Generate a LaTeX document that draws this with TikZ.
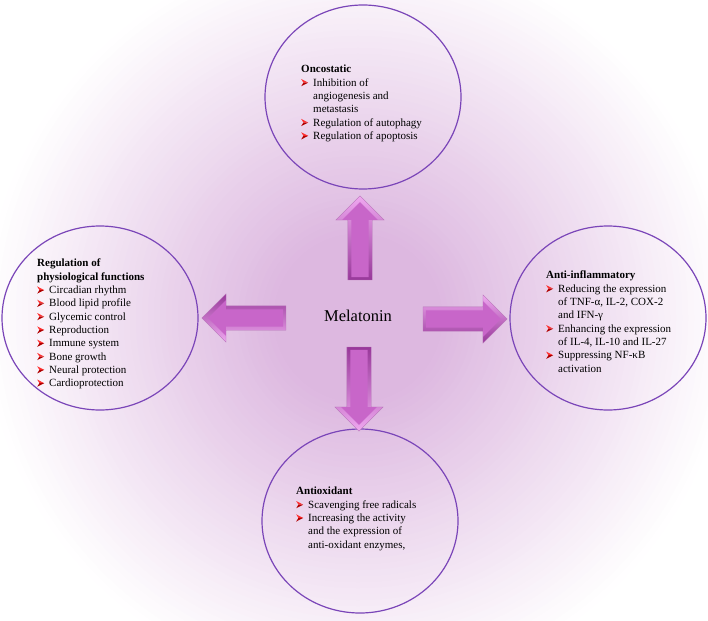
\documentclass[tikz,border=0pt]{standalone}
\usepackage{fontspec}
\setmainfont{Liberation Serif}
\usetikzlibrary{shapes.geometric,shapes.arrows}

\definecolor{glowpink}{HTML}{DDB8E0}
\definecolor{ringpurple}{HTML}{7A45B8}
\definecolor{armface}{HTML}{C866C9}
\definecolor{armlight}{HTML}{EFA8F0}
\definecolor{armdark}{HTML}{98389A}
\definecolor{tipred}{HTML}{FF3030}
\definecolor{tipdark}{HTML}{B00000}

\newcommand{\redtip}{\tikz[baseline=-3.5pt,x=1pt,y=1pt]{\fill[tipred] (0,3.6) -- (7,0) -- (2.2,0) -- cycle; \fill[tipdark] (2.2,0) -- (7,0) -- (0,-3.6) -- cycle;}}
\newcommand{\itm}{\makebox[12pt][l]{\redtip}}
\newcommand{\gap}{\hspace*{12pt}}

\tikzset{
  ring/.style={ellipse, draw=ringpurple, line width=1.2pt, minimum width=196pt, minimum height=184pt, inner sep=0pt},
  caption/.style={align=left, inner sep=0pt, anchor=north west, font=\fontsize{11}{13.3}\selectfont},
  armbody/.style={single arrow, single arrow head extend=12pt, minimum height=84pt, inner xsep=0pt, inner ysep=12pt, draw=armdark!70, line width=0.3pt},
  armtop/.style={single arrow, single arrow head extend=9pt, minimum height=75pt, inner xsep=0pt, inner ysep=8.5pt, fill=armface},
  litA/.style={top color=armlight, bottom color=armdark},
  litB/.style={top color=armdark, bottom color=armlight}
}

\begin{document}
\begin{tikzpicture}[x=1pt,y=-1pt]
\useasboundingbox (0,0) rectangle (708,620);
% background glow
\fill[white] (0,0) rectangle (708,620);
\begin{scope}
\clip (0,0) rectangle (708,620);
\foreach \r in {372,366,...,48} {
  \pgfmathtruncatemacro\mix{min(100,(375-\r)/2.9)}
  \fill[glowpink!\mix!white] (358,318) circle (\r);
}
\end{scope}

% rings
\node[ring] (oncoring) at (363,97) {};
\node[ring] (physring) at (100,318) {};
\node[ring] (inflring) at (608,318) {};
\node[ring] (oxidring) at (360,521) {};

% centre
\node[font=\fontsize{16.5}{20}\selectfont] (mel) at (358,316) {Melatonin};

% arrows
\node[armbody, rotate=90, litA] (armup) at (360,244) {};
\node[armtop, rotate=90] at (360,244) {};
\node[armbody, rotate=-90, litB] (armdown) at (359,383) {};
\node[armtop, rotate=-90] at (359,383) {};
\node[armbody, rotate=180, litB] (armleft) at (250,318) {};
\node[armtop, rotate=180] at (250,318) {};
\node[armbody, litA] (armright) at (459,319) {};
\node[armtop] at (459,319) {};

% texts
\node[caption] (oncotxt) at (301,65) {\textbf{Oncostatic}\\
\itm Inhibition of\\
\gap angiogenesis and\\
\gap metastasis\\
\itm Regulation of autophagy\\
\itm Regulation of apoptosis};

\node[caption] (phystxt) at (37,259) {\textbf{Regulation of}\\
\textbf{physiological functions}\\
\itm Circadian rhythm\\
\itm Blood lipid profile\\
\itm Glycemic control\\
\itm Reproduction\\
\itm Immune system\\
\itm Bone growth\\
\itm Neural protection\\
\itm Cardioprotection};

\node[caption] (infltxt) at (546,271) {\textbf{Anti-inflammatory}\\
\itm Reducing the expression\\
\gap of TNF-α, IL-2, COX-2\\
\gap and IFN-γ\\
\itm Enhancing the expression\\
\gap of IL-4, IL-10 and IL-27\\
\itm Suppressing NF-κB\\
\gap activation};

\node[caption] (oxidtxt) at (296,487) {\textbf{Antioxidant}\\
\itm Scavenging free radicals\\
\itm Increasing the activity\\
\gap and the expression of\\
\gap anti-oxidant enzymes,};
\end{tikzpicture}
\end{document}
